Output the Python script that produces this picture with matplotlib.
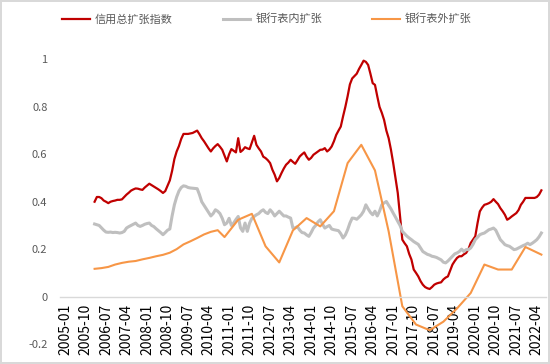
import matplotlib
matplotlib.use('Agg')
import matplotlib.pyplot as plt
import numpy as np

plt.rcParams['font.family'] = ['Noto Sans CJK SC', 'DejaVu Sans']
plt.rcParams['axes.unicode_minus'] = False

# x轴刻度（月序号，0 = 2005-01，每9个月一个标签）
tick_labels = ['2005-01', '2005-10', '2006-07', '2007-04', '2008-01', '2008-10',
               '2009-07', '2010-04', '2011-01', '2011-10', '2012-07', '2013-04',
               '2014-01', '2014-10', '2015-07', '2016-04', '2017-01', '2017-10',
               '2018-07', '2019-04', '2020-01', '2020-10', '2021-07', '2022-04']
y_ticks = [-0.2, 0, 0.2, 0.4, 0.6, 0.8, 1.0]
y_tick_labels = ['-0.2', '0', '0.2', '0.4', '0.6', '0.8', '1']

# 月度数据 2006-02 ~ 2022-06
first_month = 13
credit_total = [
    0.40, 0.42, 0.42, 0.415, 0.405, 0.40, 0.394, 0.40, 0.403, 0.405, 0.408,             # 2006
    0.408, 0.41, 0.42, 0.43, 0.438, 0.447, 0.452, 0.456, 0.455, 0.452, 0.45, 0.46,      # 2007
    0.468, 0.476, 0.47, 0.464, 0.458, 0.452, 0.445, 0.437, 0.445, 0.467, 0.49, 0.53,    # 2008
    0.58, 0.612, 0.635, 0.665, 0.686, 0.686, 0.686, 0.688, 0.69, 0.695, 0.70, 0.685,    # 2009
    0.668, 0.655, 0.64, 0.625, 0.612, 0.625, 0.635, 0.643, 0.632, 0.619, 0.595, 0.57,   # 2010
    0.60, 0.622, 0.615, 0.608, 0.668, 0.61, 0.618, 0.63, 0.625, 0.622, 0.65, 0.678,     # 2011
    0.64, 0.625, 0.612, 0.59, 0.584, 0.575, 0.563, 0.535, 0.514, 0.486, 0.50, 0.521,    # 2012
    0.54, 0.556, 0.565, 0.577, 0.568, 0.56, 0.575, 0.591, 0.60, 0.608, 0.59, 0.577,     # 2013
    0.585, 0.598, 0.605, 0.612, 0.619, 0.62, 0.626, 0.612, 0.62, 0.633, 0.655, 0.682,   # 2014
    0.70, 0.717, 0.76, 0.80, 0.845, 0.895, 0.92, 0.93, 0.94, 0.96, 0.977, 0.995,        # 2015
    0.99, 0.977, 0.94, 0.90, 0.893, 0.845, 0.80, 0.775, 0.745, 0.70, 0.668, 0.62,       # 2016
    0.563, 0.50, 0.437, 0.34, 0.24, 0.225, 0.212, 0.18, 0.156, 0.114, 0.10, 0.085,      # 2017
    0.065, 0.05, 0.04, 0.035, 0.032, 0.04, 0.05, 0.055, 0.058, 0.06, 0.072, 0.08,       # 2018
    0.085, 0.11, 0.135, 0.15, 0.163, 0.17, 0.17, 0.178, 0.184, 0.20, 0.226, 0.24,       # 2019
    0.254, 0.31, 0.359, 0.375, 0.387, 0.39, 0.394, 0.40, 0.411, 0.40, 0.39, 0.373,      # 2020
    0.36, 0.345, 0.324, 0.33, 0.338, 0.345, 0.352, 0.365, 0.387, 0.40, 0.416, 0.416,    # 2021
    0.416, 0.416, 0.416, 0.42, 0.43, 0.448,                                             # 2022
]
bank_on = [
    0.306, 0.303, 0.30, 0.29, 0.28, 0.272, 0.271, 0.272, 0.27, 0.271, 0.27,             # 2006
    0.268, 0.27, 0.275, 0.289, 0.295, 0.30, 0.305, 0.31, 0.30, 0.296, 0.30, 0.305,      # 2007
    0.308, 0.31, 0.30, 0.295, 0.286, 0.278, 0.27, 0.261, 0.27, 0.28, 0.285, 0.34,       # 2008
    0.387, 0.42, 0.445, 0.46, 0.467, 0.465, 0.46, 0.458, 0.457, 0.456, 0.455, 0.43,     # 2009
    0.40, 0.385, 0.37, 0.355, 0.34, 0.35, 0.366, 0.36, 0.35, 0.33, 0.303, 0.31,         # 2010
    0.33, 0.30, 0.31, 0.325, 0.338, 0.29, 0.275, 0.31, 0.275, 0.31, 0.33, 0.338,        # 2011
    0.345, 0.35, 0.36, 0.366, 0.355, 0.35, 0.366, 0.355, 0.34, 0.35, 0.36, 0.35,        # 2012
    0.34, 0.34, 0.335, 0.331, 0.289, 0.29, 0.295, 0.28, 0.27, 0.268, 0.26, 0.254,       # 2013
    0.27, 0.289, 0.30, 0.315, 0.324, 0.305, 0.289, 0.295, 0.30, 0.285, 0.282, 0.28,     # 2014
    0.278, 0.265, 0.247, 0.26, 0.282, 0.31, 0.331, 0.33, 0.326, 0.335, 0.345, 0.36,     # 2015
    0.387, 0.37, 0.355, 0.345, 0.36, 0.34, 0.36, 0.387, 0.395, 0.401, 0.385, 0.37,      # 2016
    0.352, 0.335, 0.317, 0.30, 0.275, 0.265, 0.255, 0.247, 0.24, 0.232, 0.226, 0.22,    # 2017
    0.205, 0.19, 0.184, 0.178, 0.175, 0.17, 0.168, 0.165, 0.16, 0.155, 0.145, 0.142,    # 2018
    0.15, 0.16, 0.17, 0.18, 0.184, 0.19, 0.20, 0.19, 0.198, 0.198, 0.205, 0.22,         # 2019
    0.24, 0.25, 0.261, 0.265, 0.268, 0.275, 0.282, 0.285, 0.289, 0.28, 0.26, 0.24,      # 2020
    0.23, 0.219, 0.215, 0.212, 0.205, 0.198, 0.20, 0.205, 0.21, 0.215, 0.219, 0.225,    # 2021
    0.219, 0.225, 0.232, 0.24, 0.252, 0.268,                                            # 2022
]
months = np.arange(first_month, first_month + len(credit_total))

# 表外数据为低频（季度/半年），直线连接
off_months = [13, 16, 19, 22, 25, 28, 31, 34, 37, 40, 43, 46, 49, 52, 55, 58, 61, 64, 67,
              70, 76, 82, 88, 94, 100, 106, 112, 118, 124, 130, 136, 142, 148, 154, 160,
              166, 172, 178, 184, 190, 196, 202, 209]
bank_off = [0.117, 0.12, 0.125, 0.135, 0.142, 0.147, 0.15, 0.157, 0.163, 0.17, 0.176, 0.185,
            0.20, 0.22, 0.233, 0.247, 0.262, 0.273, 0.28,
            0.251, 0.324, 0.349, 0.212, 0.144, 0.279, 0.331, 0.296, 0.36, 0.563, 0.64,
            0.532, 0.275, -0.041, -0.118, -0.142, -0.106, -0.05, 0.015, 0.135, 0.114,
            0.114, 0.209, 0.177]

fig = plt.figure(figsize=(5.5, 3.64), dpi=100)
fig.patch.set_edgecolor('#D9D9D9')
fig.patch.set_linewidth(1.5)
ax = fig.add_axes([0.109, 0.055, 0.8836, 0.7816])

ax.plot(months, credit_total, color='#C00000', lw=1.6, label='信用总扩张指数')
ax.plot(months, bank_on, color='#BFBFBF', lw=2.2, label='银行表内扩张')
ax.plot(off_months, bank_off, color='#F79646', lw=1.5, label='银行表外扩张')

ax.set_xlim(-2.2, 211)
ax.set_ylim(-0.2, 1.0)
ax.set_xticks(np.arange(len(tick_labels)) * 9)
ax.set_xticklabels(tick_labels, fontsize=8, color='#595959')
ax.set_yticks(y_ticks)
ax.set_yticklabels(y_tick_labels, fontsize=8, color='#595959')
ax.tick_params(axis='both', length=0)
ax.tick_params(axis='x', pad=5, labelrotation=90)
ax.tick_params(axis='y', pad=9)

for s in ['left', 'right', 'top']:
    ax.spines[s].set_visible(False)
ax.spines['bottom'].set_position(('data', 0))
ax.spines['bottom'].set_color('#D9D9D9')
ax.spines['bottom'].set_linewidth(1.0)

fig.legend(loc='upper center', bbox_to_anchor=(0.485, 0.99), ncol=3, frameon=False,
           fontsize=8, handlelength=2.5, handletextpad=0.45, columnspacing=4.5,
           labelcolor='#595959')

fig.savefig('out.png', dpi=100)
